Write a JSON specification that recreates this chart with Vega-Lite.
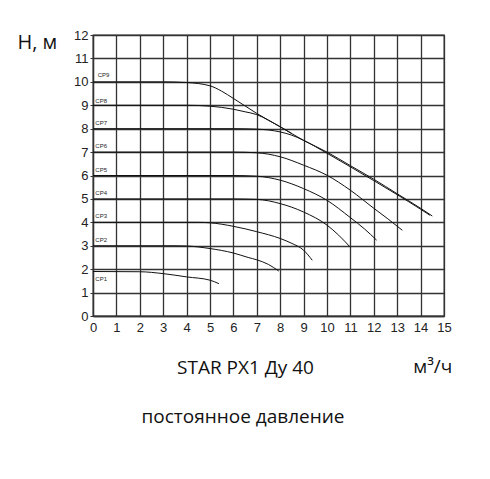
{
  "$schema": "https://vega.github.io/schema/vega-lite/v6.json",
  "width": 351,
  "height": 281,
  "autosize": "none",
  "padding": {"left": 93, "top": 35, "right": 46, "bottom": 163},
  "background": "white",
  "config": {
    "view": {"stroke": "#333", "strokeWidth": 1.3},
    "font": "Liberation Sans"
  },
  "datasets": {
    "curves": [
      {"cp": "CP1", "q": 0, "h": 1.9}, {"cp": "CP1", "q": 2, "h": 1.89}, {"cp": "CP1", "q": 3, "h": 1.81},
      {"cp": "CP1", "q": 4, "h": 1.67}, {"cp": "CP1", "q": 5, "h": 1.53}, {"cp": "CP1", "q": 5.38, "h": 1.38},
      {"cp": "CP2", "q": 0, "h": 3}, {"cp": "CP2", "q": 3.5, "h": 3}, {"cp": "CP2", "q": 4, "h": 2.99},
      {"cp": "CP2", "q": 5, "h": 2.88}, {"cp": "CP2", "q": 6, "h": 2.69}, {"cp": "CP2", "q": 6.63, "h": 2.5},
      {"cp": "CP2", "q": 7, "h": 2.4}, {"cp": "CP2", "q": 7.5, "h": 2.2}, {"cp": "CP2", "q": 7.94, "h": 1.92},
      {"cp": "CP3", "q": 0, "h": 4}, {"cp": "CP3", "q": 4.5, "h": 4}, {"cp": "CP3", "q": 5, "h": 3.98},
      {"cp": "CP3", "q": 6, "h": 3.83}, {"cp": "CP3", "q": 7, "h": 3.6}, {"cp": "CP3", "q": 8, "h": 3.31},
      {"cp": "CP3", "q": 8.5, "h": 3.1}, {"cp": "CP3", "q": 9, "h": 2.81}, {"cp": "CP3", "q": 9.37, "h": 2.38},
      {"cp": "CP4", "q": 0, "h": 5}, {"cp": "CP4", "q": 6, "h": 5}, {"cp": "CP4", "q": 7, "h": 4.98},
      {"cp": "CP4", "q": 8, "h": 4.8}, {"cp": "CP4", "q": 9, "h": 4.44}, {"cp": "CP4", "q": 10, "h": 3.88},
      {"cp": "CP4", "q": 10.5, "h": 3.45}, {"cp": "CP4", "q": 11.01, "h": 2.92},
      {"cp": "CP5", "q": 0, "h": 6}, {"cp": "CP5", "q": 6, "h": 6}, {"cp": "CP5", "q": 7, "h": 5.97},
      {"cp": "CP5", "q": 8, "h": 5.8}, {"cp": "CP5", "q": 9, "h": 5.44}, {"cp": "CP5", "q": 10, "h": 4.94},
      {"cp": "CP5", "q": 11, "h": 4.2}, {"cp": "CP5", "q": 11.6, "h": 3.72}, {"cp": "CP5", "q": 12.12, "h": 3.24},
      {"cp": "CP6", "q": 0, "h": 7}, {"cp": "CP6", "q": 6, "h": 7}, {"cp": "CP6", "q": 7, "h": 6.97},
      {"cp": "CP6", "q": 8, "h": 6.8}, {"cp": "CP6", "q": 9, "h": 6.44}, {"cp": "CP6", "q": 10, "h": 6.01},
      {"cp": "CP6", "q": 11, "h": 5.37}, {"cp": "CP6", "q": 12, "h": 4.6}, {"cp": "CP6", "q": 12.6, "h": 4.15},
      {"cp": "CP6", "q": 13.22, "h": 3.66},
      {"cp": "CP7", "q": 0, "h": 8}, {"cp": "CP7", "q": 6, "h": 8}, {"cp": "CP7", "q": 7, "h": 7.98},
      {"cp": "CP7", "q": 8, "h": 7.86}, {"cp": "CP7", "q": 8.5, "h": 7.72}, {"cp": "CP7", "q": 9, "h": 7.5},
      {"cp": "CP7", "q": 10, "h": 6.95}, {"cp": "CP7", "q": 11, "h": 6.37}, {"cp": "CP7", "q": 12, "h": 5.78},
      {"cp": "CP7", "q": 13, "h": 5.18}, {"cp": "CP7", "q": 14, "h": 4.56}, {"cp": "CP7", "q": 14.4, "h": 4.3},
      {"cp": "CP8", "q": 0, "h": 9}, {"cp": "CP8", "q": 4, "h": 9}, {"cp": "CP8", "q": 5, "h": 8.96},
      {"cp": "CP8", "q": 6, "h": 8.83}, {"cp": "CP8", "q": 6.5, "h": 8.72}, {"cp": "CP8", "q": 7, "h": 8.6},
      {"cp": "CP8", "q": 7.5, "h": 8.36}, {"cp": "CP8", "q": 8, "h": 8.08}, {"cp": "CP8", "q": 8.5, "h": 7.79},
      {"cp": "CP9", "q": 0, "h": 10}, {"cp": "CP9", "q": 3, "h": 10}, {"cp": "CP9", "q": 4, "h": 9.97},
      {"cp": "CP9", "q": 5, "h": 9.83}, {"cp": "CP9", "q": 5.5, "h": 9.6}, {"cp": "CP9", "q": 6, "h": 9.29},
      {"cp": "CP9", "q": 6.5, "h": 8.97}, {"cp": "CP9", "q": 7, "h": 8.65}, {"cp": "CP9", "q": 8, "h": 8.08},
      {"cp": "CP9", "q": 9, "h": 7.5}, {"cp": "CP9", "q": 10, "h": 7.0}, {"cp": "CP9", "q": 11, "h": 6.42},
      {"cp": "CP9", "q": 12, "h": 5.84}, {"cp": "CP9", "q": 13, "h": 5.22}, {"cp": "CP9", "q": 14, "h": 4.6},
      {"cp": "CP9", "q": 14.5, "h": 4.27}
    ],
    "labels": [
      {"cp": "CP1", "q": 0.1, "h": 1.6},
      {"cp": "CP2", "q": 0.1, "h": 3.25},
      {"cp": "CP3", "q": 0.1, "h": 4.25},
      {"cp": "CP4", "q": 0.1, "h": 5.25},
      {"cp": "CP5", "q": 0.1, "h": 6.25},
      {"cp": "CP6", "q": 0.1, "h": 7.25},
      {"cp": "CP7", "q": 0.1, "h": 8.25},
      {"cp": "CP8", "q": 0.1, "h": 9.2},
      {"cp": "CP9", "q": 0.2, "h": 10.3}
    ],
    "notes": [
      {"txt": "м³/ч", "q": 14.52, "h": -2.45, "size": 19},
      {"txt": "постоянное давление", "q": 6.41, "h": -4.58, "size": 19}
    ]
  },
  "encoding": {
    "x": {
      "field": "q", "type": "quantitative",
      "scale": {"domain": [0, 15], "nice": false},
      "axis": {
        "values": [0,1,2,3,4,5,6,7,8,9,10,11,12,13,14,15],
        "labelOverlap": false,
        "ticks": false, "labelFontSize": 13, "labelColor": "#222", "labelPadding": 5,
        "domainColor": "#333", "domainWidth": 1.3,
        "gridColor": "#333", "gridWidth": 1.3, "gridOpacity": 1,
        "title": "STAR PX1 Ду 40", "titleFont": "Open Sans", "titleFontSize": 19,
        "titleFontWeight": "normal", "titleColor": "#111",
        "titleX": 152, "titleY": 57, "titleBaseline": "alphabetic", "titleAlign": "center",
        "labelFlush": false
      }
    },
    "y": {
      "field": "h", "type": "quantitative",
      "scale": {"domain": [0, 12], "nice": false},
      "axis": {
        "values": [0,1,2,3,4,5,6,7,8,9,10,11,12],
        "labelOverlap": false,
        "tickSize": 3, "tickColor": "#333", "labelFontSize": 13, "labelColor": "#222", "labelPadding": 2,
        "domainColor": "#333", "domainWidth": 1.3,
        "gridColor": "#333", "gridWidth": 1.3, "gridOpacity": 1,
        "title": "Н, м", "titleFont": "Open Sans", "titleFontSize": 20, "titleFontWeight": "normal",
        "titleColor": "#111", "titleAngle": 0, "titleX": -76, "titleY": 7,
        "titleAlign": "left", "titleBaseline": "middle",
        "labelFlush": false
      }
    }
  },
  "layer": [
    {
      "data": {"name": "curves"},
      "mark": {"type": "line", "interpolate": "monotone", "color": "#111", "strokeWidth": 1},
      "encoding": {
        "detail": {"field": "cp", "type": "nominal"}
      }
    },
    {
      "data": {"name": "labels"},
      "mark": {"type": "text", "align": "left", "baseline": "middle", "fontSize": 6, "color": "#222"},
      "encoding": {
        "text": {"field": "cp"}
      }
    },
    {
      "data": {"name": "notes"},
      "mark": {"type": "text", "align": "center", "baseline": "alphabetic", "font": "Open Sans", "color": "#111", "clip": false},
      "encoding": {
        "text": {"field": "txt"},
        "size": {"field": "size", "type": "quantitative", "scale": null}
      }
    }
  ]
}
